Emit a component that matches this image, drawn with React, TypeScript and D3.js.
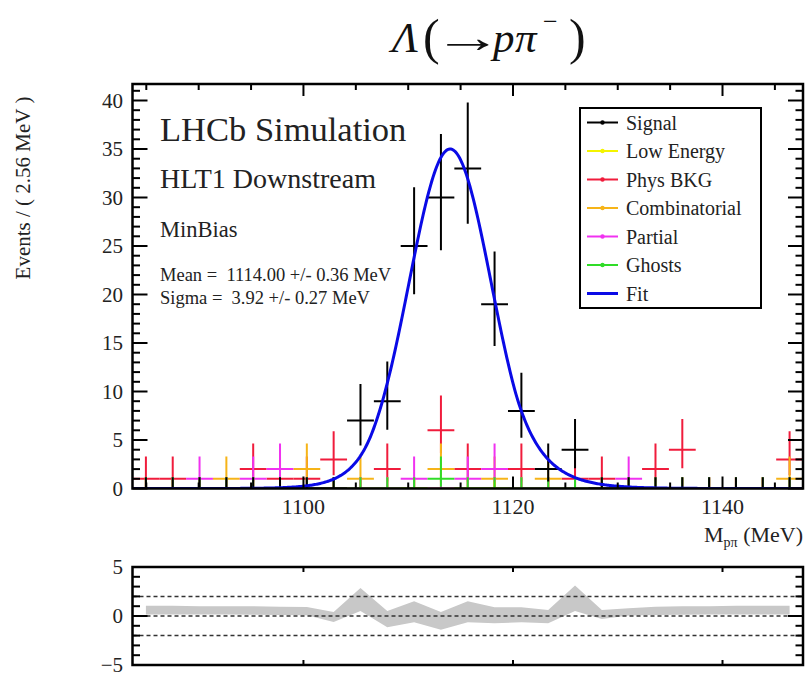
import React from 'react';
import * as d3 from 'd3';

// Histogram binning (MeV)
const BIN_LO = 1083.683;
const BIN_WIDTH = 2.56;
const N_BINS = 25;

// Per-bin event counts for each sample
const signal = [0, 0, 0, 0, 0, 0, 0, 0, 7, 9, 25, 30, 33, 19, 8, 2, 4, 0, 0, 0, 0, 0, 0, 0, 0];
const lowEnergy = [0, 0, 0, 0, 0, 0, 0, 0, 0, 0, 0, 0, 0, 0, 0, 0, 0, 0, 0, 0, 0, 0, 0, 0, 0];
const physBkg = [1, 1, 0, 0, 2, 1, 1, 3, 0, 2, 0, 6, 2, 0, 2, 0, 1, 1, 0, 2, 4, 0, 0, 0, 3];
const combinatorial = [0, 0, 0, 1, 0, 0, 2, 0, 1, 0, 0, 2, 0, 1, 0, 1, 0, 0, 0, 0, 0, 0, 0, 0, 1];
const partial = [0, 0, 1, 0, 1, 2, 0, 0, 0, 0, 1, 0, 1, 2, 0, 0, 0, 0, 1, 0, 0, 0, 0, 0, 0];
const ghosts = [0, 0, 0, 0, 0, 0, 0, 0, 0, 0, 0, 1, 0, 0, 0, 0, 0, 0, 0, 0, 0, 0, 0, 0, 0];

// Residual band (upper / lower edge per bin)
const pullHigh = [1.05, 1.05, 1.0, 1.0, 1.0, 0.95, 0.92, 0.4, 2.85, 0.5, 1.5, 0.4, 1.5, 0.9, 0.9, 0.6, 3.1, 0.6, 0.8, 0.95, 1.0, 1.0, 1.05, 1.05, 1.05];
const pullLow = [0.16, 0.16, 0.15, 0.15, 0.12, 0.1, 0.07, -0.6, 0.5, -1.15, -0.65, -1.4, -0.65, -0.75, -0.65, -0.75, 0.5, -0.3, 0.05, 0.1, 0.12, 0.15, 0.15, 0.16, 0.16];

// Fitted signal shape
const FIT_MEAN = 1114.0;
const FIT_SIGMA = 3.92;
const FIT_PEAK = 35.0;
const TAIL_LEFT = 1.9;
const TAIL_RIGHT = 1.5;

const mainYTicks = [0, 5, 10, 15, 20, 25, 30, 35, 40];
const xTickLabels = [1100, 1120, 1140];
const resYTicks = [5, 0, -5];
const resGuides = [2, 0, -2];

const seriesDraw = [
  { name: 'Phys BKG', values: physBkg, color: '#f01c3c' },
  { name: 'Low Energy', values: lowEnergy, color: '#f4f400' },
  { name: 'Combinatorial', values: combinatorial, color: '#f6b418' },
  { name: 'Partial', values: partial, color: '#f032f0' },
  { name: 'Ghosts', values: ghosts, color: '#30dc28' },
  { name: 'Signal', values: signal, color: '#000000' },
];

const legendItems = [
  { label: 'Signal', color: '#000000', marker: true },
  { label: 'Low Energy', color: '#f4f400', marker: true },
  { label: 'Phys BKG', color: '#f01c3c', marker: true },
  { label: 'Combinatorial', color: '#f6b418', marker: true },
  { label: 'Partial', color: '#f032f0', marker: true },
  { label: 'Ghosts', color: '#30dc28', marker: true },
  { label: 'Fit', color: '#0a0ae6', marker: false },
];

const FONT = "'Liberation Serif', 'Times New Roman', 'DejaVu Serif', serif";
const NBSP = '\u00a0';

function poissonInterval(n: number): [number, number] {
  if (n === 0) return [0, 1.148];
  const lo = n * Math.pow(1 - 1 / (9 * n) - 1 / (3 * Math.sqrt(n)), 3);
  const m = n + 1;
  const hi = m * Math.pow(1 - 1 / (9 * m) + 1 / (3 * Math.sqrt(m)), 3);
  return [lo, hi];
}

function fitShape(x: number): number {
  const z = (x - FIT_MEAN) / FIT_SIGMA;
  if (z < -TAIL_LEFT) return FIT_PEAK * Math.exp((TAIL_LEFT * TAIL_LEFT) / 2 + TAIL_LEFT * z);
  if (z > TAIL_RIGHT) return FIT_PEAK * Math.exp((TAIL_RIGHT * TAIL_RIGHT) / 2 - TAIL_RIGHT * z);
  return FIT_PEAK * Math.exp(-0.5 * z * z);
}

export default function App() {
  const W = 808;
  const H = 678;
  const L = 132.5;
  const R = 803;
  const mainTop = 84;
  const mainBot = 488.5;
  const resTop = 567;
  const resBot = 665;

  const xMin = BIN_LO;
  const xMax = BIN_LO + N_BINS * BIN_WIDTH;
  const x = d3.scaleLinear().domain([xMin, xMax]).range([L, R]);
  const y = d3.scaleLinear().domain([0, (mainBot - mainTop) / 9.7]).range([mainBot, mainTop]);
  const yr = d3.scaleLinear().domain([-5, 5]).range([resBot, resTop]);

  const centers = d3.range(N_BINS).map((i) => BIN_LO + (i + 0.5) * BIN_WIDTH);

  const fitPts = d3.range(0, 601).map((i) => xMin + (i / 600) * (xMax - xMin));
  const fitPath = d3
    .line<number>()
    .x((v) => x(v))
    .y((v) => y(fitShape(v)))(fitPts) as string;

  const band = d3
    .area<number>()
    .x((_, i) => x(centers[i]))
    .y0((_, i) => yr(pullLow[i]))
    .y1((_, i) => yr(pullHigh[i]))(pullHigh) as string;

  const yMinor = d3.range(0, 42, 1);
  const xMinor = d3.range(1085, 1148, 5);
  const resMinor = d3.range(-5, 6, 1);

  return (
    <svg
      width={W}
      height={H}
      style={{ position: 'absolute', left: 0, top: 0, background: '#fff' }}
      fontFamily={FONT}
    >
      <rect x={0} y={0} width={W} height={H} fill="#fff" />
      <defs>
        <clipPath id="mainClip">
          <rect x={L} y={mainTop} width={R - L} height={mainBot - mainTop} />
        </clipPath>
        <clipPath id="resClip">
          <rect x={L} y={resTop} width={R - L} height={resBot - resTop} />
        </clipPath>
      </defs>

      {/* Title */}
      <text y={52} fontSize={43} fill="#111">
        <tspan x={392} fontStyle="italic">Λ</tspan>
        <tspan x={423} fontSize={50} dy={2}>(</tspan>
        <tspan x={493} dy={-2} fontStyle="italic">p</tspan>
        <tspan x={515} fontStyle="italic">π</tspan>
        <tspan x={543} dy={-22} fontSize={26}>−</tspan>
        <tspan x={569} dy={24} fontSize={50}>)</tspan>
      </text>
      <text transform="translate(433,52) scale(1.62,1)" fontSize={43} fill="#111">
        →
      </text>

      {/* Data points */}
      <g clipPath="url(#mainClip)">
        {seriesDraw.map((s) => (
          <g key={s.name} stroke={s.color} strokeWidth={2}>
            {s.values.map((n, i) => {
              const [lo, hi] = poissonInterval(n);
              const cx = x(centers[i]);
              return (
                <g key={i}>
                  <line x1={x(centers[i] - BIN_WIDTH / 2)} x2={x(centers[i] + BIN_WIDTH / 2)} y1={y(n)} y2={y(n)} />
                  <line x1={cx} x2={cx} y1={y(lo)} y2={y(hi)} />
                </g>
              );
            })}
          </g>
        ))}
        <path d={fitPath} fill="none" stroke="#0a0ae6" strokeWidth={3} />
      </g>

      {/* Main frame ticks */}
      <g stroke="#000" strokeWidth={2}>
        {yMinor.map((v) => {
          const len = v % 5 === 0 ? 15 : 7.5;
          return (
            <g key={'y' + v}>
              <line x1={L} x2={L + len} y1={y(v)} y2={y(v)} />
              <line x1={R} x2={R - len} y1={y(v)} y2={y(v)} />
            </g>
          );
        })}
        {xMinor.map((v) => {
          const len = v % 20 === 0 ? 12 : 6;
          return (
            <g key={'x' + v}>
              <line x1={x(v)} x2={x(v)} y1={mainBot} y2={mainBot - len} />
              <line x1={x(v)} x2={x(v)} y1={mainTop} y2={mainTop + len} />
            </g>
          );
        })}
      </g>
      <rect x={L} y={mainTop} width={R - L} height={mainBot - mainTop} fill="none" stroke="#000" strokeWidth={2.5} />

      {/* Main axis labels */}
      <g fontSize={21} fill="#222" textAnchor="end">
        {mainYTicks.map((v) => (
          <text key={v} x={123} y={y(v) + 7}>
            {v}
          </text>
        ))}
      </g>
      <g fontSize={22} fill="#222" textAnchor="middle">
        {xTickLabels.map((v) => (
          <text key={v} x={x(v)} y={514}>
            {v}
          </text>
        ))}
      </g>
      <text x={803} y={542} textAnchor="end" fontSize={22} fill="#222">
        <tspan>M</tspan>
        <tspan dy={5} fontSize={14}>pπ</tspan>
        <tspan dy={-5}>{NBSP}(MeV)</tspan>
      </text>
      <text transform="translate(30,188) rotate(-90)" textAnchor="middle" fontSize={21} fill="#222">
        {'Events / ( 2.56 MeV )'}
      </text>

      {/* Annotations */}
      <g fill="#222">
        <text x={160} y={141} fontSize={34.5}>LHCb Simulation</text>
        <text x={160} y={188} fontSize={28}>HLT1 Downstream</text>
        <text x={160} y={237} fontSize={22.5}>MinBias</text>
        <text x={160} y={281} fontSize={18.5}>{`Mean =${NBSP} 1114.00 +/- 0.36 MeV`}</text>
        <text x={160} y={304} fontSize={18.5}>{`Sigma =${NBSP} 3.92 +/- 0.27 MeV`}</text>
      </g>

      {/* Legend */}
      <g>
        <rect x={580} y={108} width={181} height={200} fill="#fff" stroke="#000" strokeWidth={2} />
        {legendItems.map((it, i) => {
          const ly = 122.5 + i * 28.5;
          return (
            <g key={it.label}>
              <line x1={587} x2={618} y1={ly} y2={ly} stroke={it.color} strokeWidth={it.marker ? 2 : 3} />
              {it.marker && <circle cx={602.5} cy={ly} r={2.2} fill={it.color} />}
              <text x={626} y={ly + 7} fontSize={20} fill="#222">
                {it.label}
              </text>
            </g>
          );
        })}
      </g>

      {/* Residual pad */}
      <g clipPath="url(#resClip)">
        <path d={band} fill="#c8c8c8" stroke="none" />
        {resGuides.map((v) => (
          <line key={v} x1={L} x2={R} y1={yr(v)} y2={yr(v)} stroke="#333" strokeWidth={1.5} strokeDasharray="4 3" />
        ))}
      </g>
      <g stroke="#000" strokeWidth={2}>
        {resMinor.map((v) => {
          const len = v % 5 === 0 ? 15 : 7.5;
          return (
            <g key={'r' + v}>
              <line x1={L} x2={L + len} y1={yr(v)} y2={yr(v)} />
              <line x1={R} x2={R - len} y1={yr(v)} y2={yr(v)} />
            </g>
          );
        })}
        {xTickLabels.map((v) => (
          <g key={'rx' + v}>
            <line x1={x(v)} x2={x(v)} y1={resBot} y2={resBot - 5} />
            <line x1={x(v)} x2={x(v)} y1={resTop} y2={resTop + 5} />
          </g>
        ))}
      </g>
      <rect x={L} y={resTop} width={R - L} height={resBot - resTop} fill="none" stroke="#000" strokeWidth={2.5} />
      <g fontSize={21} fill="#222" textAnchor="end">
        {resYTicks.map((v) => (
          <text key={v} x={123} y={yr(v) + 7}>
            {v < 0 ? '−' + Math.abs(v) : String(v)}
          </text>
        ))}
      </g>
    </svg>
  );
}
